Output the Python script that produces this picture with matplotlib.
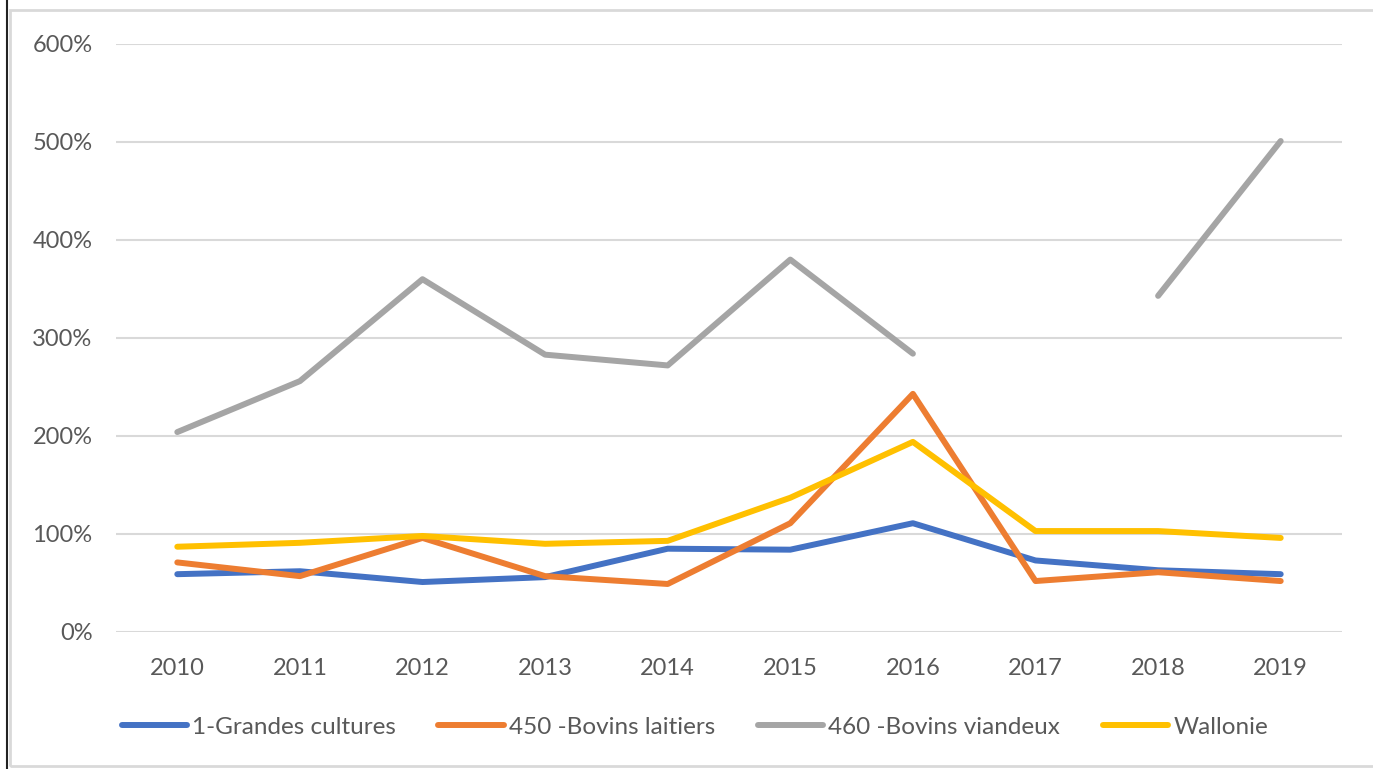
import numpy as np
from matplotlib import pyplot as plt
from matplotlib.patches import Rectangle
from matplotlib.lines import Line2D

years = ['2010', '2011', '2012', '2013', '2014', '2015', '2016', '2017', '2018', '2019']

# valeurs en %
grandes_cultures = [59, 62, 51, 56, 85, 84, 111, 73, 63, 59]
bovins_laitiers = [71, 57, 96, 57, 49, 111, 243, 52, 61, 52]
bovins_viandeux = [204, 256, 360, 283, 272, 380, 284, np.nan, 343, 501]
wallonie = [87, 91, 98, 90, 93, 137, 194, 103, 103, 96]

series = [
    ('1-Grandes cultures', grandes_cultures, '#4472C4'),
    ('450 -Bovins laitiers', bovins_laitiers, '#ED7D31'),
    ('460 -Bovins viandeux', bovins_viandeux, '#A5A5A5'),
    ('Wallonie', wallonie, '#FFC000'),
]

plt.rcParams['font.family'] = ['Lato', 'DejaVu Sans']
txt_color = '#595959'

fig = plt.figure(figsize=(13.73, 7.69), dpi=100)
ax = fig.add_axes([116 / 1373, 1 - 632 / 769, (1342 - 116) / 1373, (632 - 44) / 769])

x = np.arange(len(years))
for name, vals, col in series:
    ax.plot(x, vals, color=col, lw=4.3, label=name, solid_capstyle='round', solid_joinstyle='round')

ax.set_xlim(-0.5, len(years) - 0.5)
ax.set_ylim(0, 600)
ax.set_yticks(range(0, 601, 100))
ax.set_yticklabels([f'{v}%' for v in range(0, 601, 100)])
ax.set_xticks(x)
ax.set_xticklabels(years)
ax.grid(axis='y', color='#D9D9D9', lw=1.5)
ax.set_axisbelow(True)
for s in ax.spines.values():
    s.set_visible(False)
ax.tick_params(length=0, labelsize=17, colors=txt_color)
ax.tick_params(axis='x', pad=19)
ax.tick_params(axis='y', pad=17)

handles = [Line2D([0], [0], color=c, lw=4.3, solid_capstyle='round') for _, _, c in series]
fig.legend(handles, [n for n, _, _ in series], loc='center', bbox_to_anchor=(0.506, 1 - 727 / 769),
           ncol=4, frameon=False, fontsize=17.5, handlelength=2.7, handletextpad=0.2,
           columnspacing=1.75, labelcolor=txt_color)

# cadre
fig.patches.append(Rectangle((10 / 1373, 3 / 769), 1.0, 1 - 13 / 769, transform=fig.transFigure,
                             fill=False, edgecolor='#D9D9D9', lw=2))
fig.lines.append(Line2D([7 / 1373, 7 / 1373], [0, 1], transform=fig.transFigure, color='#222222', lw=1.5))

fig.savefig('out.png', dpi=100)
